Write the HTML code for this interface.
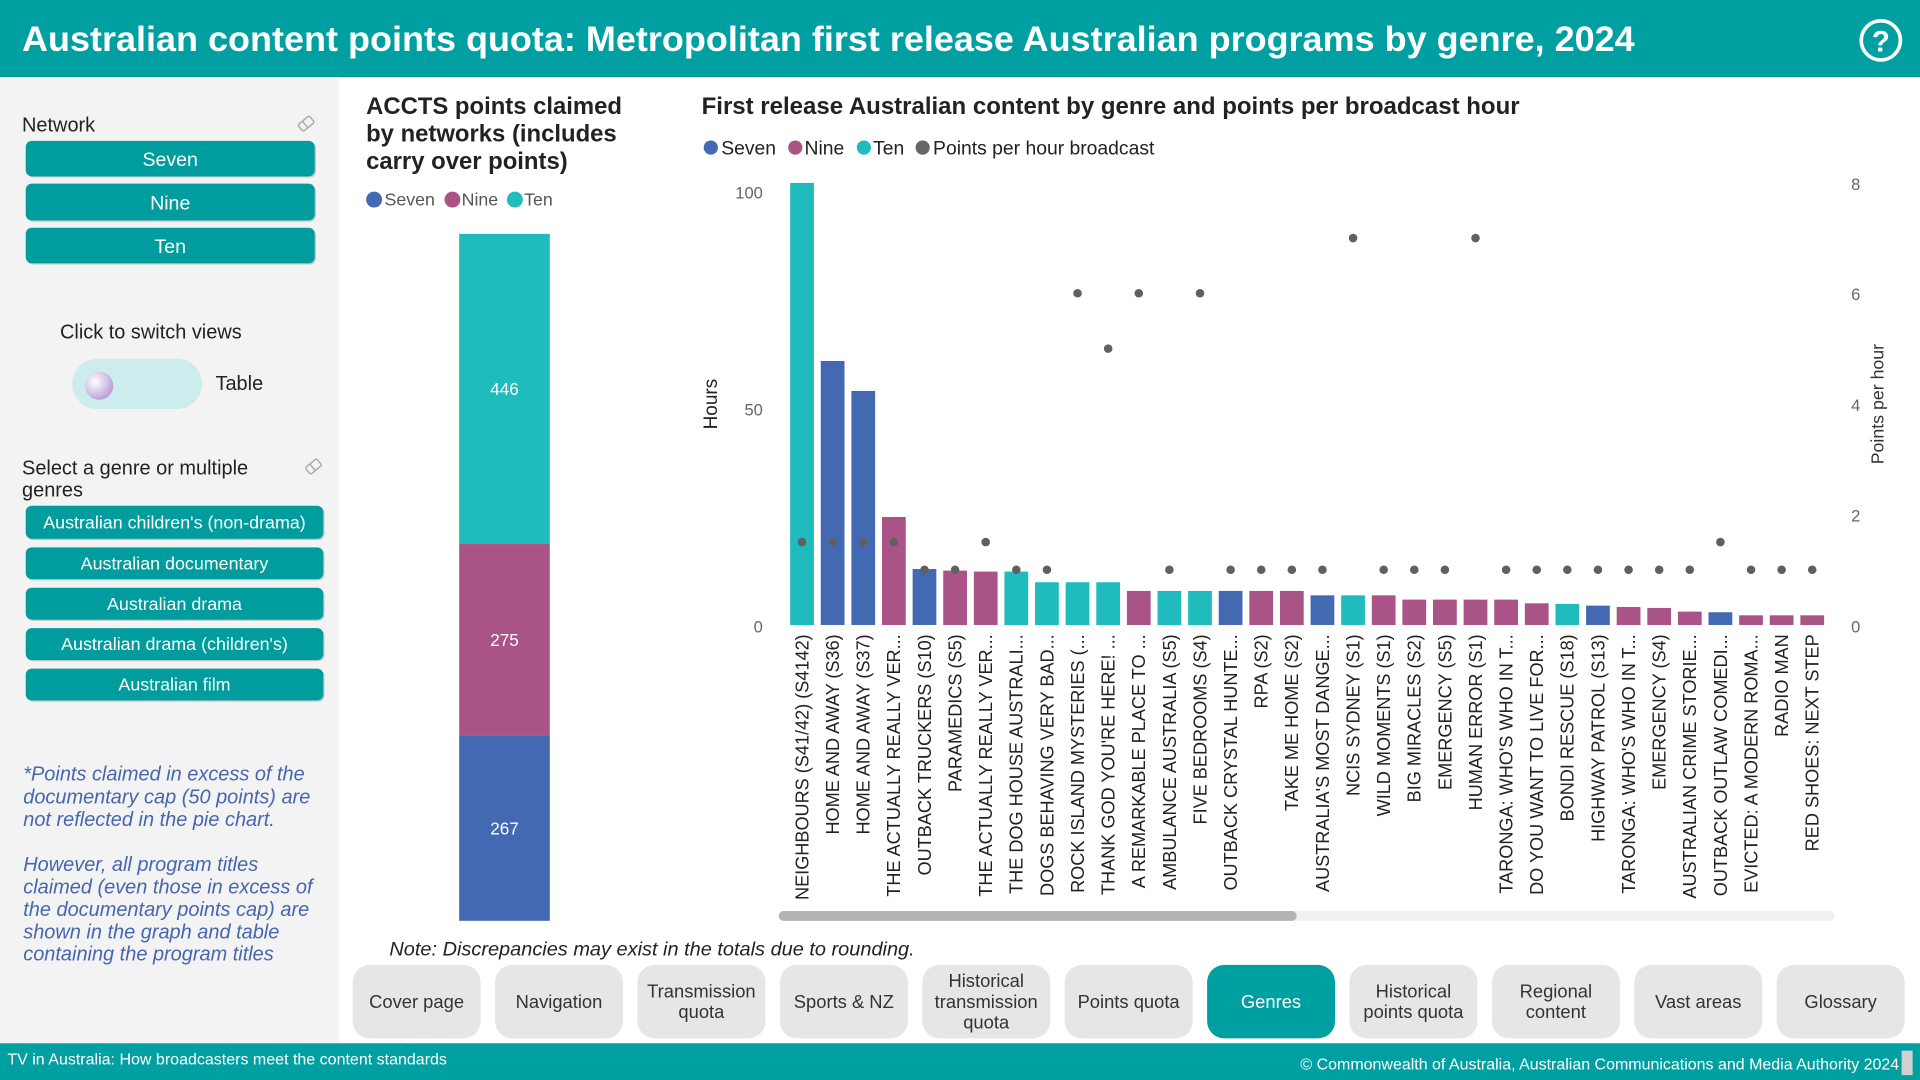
<!DOCTYPE html>
<html>
<head>
<meta charset="utf-8">
<style>
html,body{margin:0;padding:0;background:#fff;overflow:hidden;}
svg{display:block;}
text{font-family:"Liberation Sans",Arial,sans-serif;}
.xl{font-size:14.8px;fill:#222;}
.nb{font-size:15px;fill:#333;text-anchor:middle;}
.note{font-size:16.3px;fill:#4666AE;font-style:italic;}
</style>
</head>
<body>
<svg width="1920" height="1080" viewBox="0 0 1568 882" xmlns="http://www.w3.org/2000/svg">
<defs>
<radialGradient id="knob" cx="0.35" cy="0.35" r="0.7">
<stop offset="0" stop-color="#ffffff"/>
<stop offset="1" stop-color="#b89dd6"/>
</radialGradient>
</defs>
<rect x="0" y="0" width="1568" height="882" fill="#fff"/>

<!-- Header -->
<rect x="0" y="0" width="1568" height="63" fill="#00A0A2"/>
<rect x="0" y="61.5" width="1568" height="1.5" fill="#0a9496"/>
<text x="18" y="41.5" font-size="29" font-weight="bold" fill="#fff" textLength="1317" lengthAdjust="spacingAndGlyphs">Australian content points quota: Metropolitan first release Australian programs by genre, 2024</text>
<circle cx="1536" cy="33" r="16" fill="none" stroke="#fff" stroke-width="3"/>
<text x="1536" y="42" font-size="24" font-weight="bold" fill="#fff" text-anchor="middle">?</text>

<!-- Left panel -->
<rect x="0" y="63" width="277" height="789" fill="#f3f3f3"/>
<text x="18" y="107.5" font-size="16.3" fill="#222">Network</text>
<g transform="translate(250,101) rotate(-40)" fill="none" stroke="#aaa" stroke-width="1.2">
<rect x="-6" y="-3.5" width="12" height="7" rx="1.5"/>
<line x1="-1" y1="-3.5" x2="-1" y2="3.5"/>
</g>
<rect x="22" y="116" width="236" height="29" rx="5" fill="#b9c9c9"/>
<rect x="21" y="115" width="236" height="29" rx="5" fill="#009C9E"/>
<text x="139" y="135.5" font-size="16" fill="#fff" text-anchor="middle">Seven</text>
<rect x="22" y="151" width="236" height="30" rx="5" fill="#b9c9c9"/>
<rect x="21" y="150" width="236" height="30" rx="5" fill="#009C9E"/>
<text x="139" y="171" font-size="16" fill="#fff" text-anchor="middle">Nine</text>
<rect x="22" y="187" width="236" height="29" rx="5" fill="#b9c9c9"/>
<rect x="21" y="186" width="236" height="29" rx="5" fill="#009C9E"/>
<text x="139" y="206.5" font-size="16" fill="#fff" text-anchor="middle">Ten</text>

<text x="49" y="276.5" font-size="16.3" fill="#222">Click to switch views</text>
<rect x="59" y="293" width="106" height="41" rx="20.5" fill="#cdecee"/>
<circle cx="81" cy="315" r="11.5" fill="url(#knob)"/>
<text x="176" y="318.5" font-size="16.3" fill="#222">Table</text>

<text x="18" y="387.5" font-size="16.3" fill="#222">Select a genre or multiple</text>
<text x="18" y="405.5" font-size="16.3" fill="#222">genres</text>
<g transform="translate(256,381) rotate(-40)" fill="none" stroke="#aaa" stroke-width="1.2">
<rect x="-6" y="-3.5" width="12" height="7" rx="1.5"/>
<line x1="-1" y1="-3.5" x2="-1" y2="3.5"/>
</g>
<g>
<rect x="22" y="414" width="243" height="27" rx="5" fill="#b9c9c9"/>
<rect x="21" y="413" width="243" height="27" rx="5" fill="#009C9E"/>
<text x="142.5" y="431.5" font-size="14.6" fill="#fff" text-anchor="middle">Australian children's (non-drama)</text>
<rect x="22" y="448" width="243" height="26" rx="5" fill="#b9c9c9"/>
<rect x="21" y="447" width="243" height="26" rx="5" fill="#009C9E"/>
<text x="142.5" y="465" font-size="14.6" fill="#fff" text-anchor="middle">Australian documentary</text>
<rect x="22" y="481" width="243" height="26" rx="5" fill="#b9c9c9"/>
<rect x="21" y="480" width="243" height="26" rx="5" fill="#009C9E"/>
<text x="142.5" y="498" font-size="14.6" fill="#fff" text-anchor="middle">Australian drama</text>
<rect x="22" y="514" width="243" height="26" rx="5" fill="#b9c9c9"/>
<rect x="21" y="513" width="243" height="26" rx="5" fill="#009C9E"/>
<text x="142.5" y="531" font-size="14.6" fill="#fff" text-anchor="middle">Australian drama (children's)</text>
<rect x="22" y="547" width="243" height="26" rx="5" fill="#b9c9c9"/>
<rect x="21" y="546" width="243" height="26" rx="5" fill="#009C9E"/>
<text x="142.5" y="564" font-size="14.6" fill="#fff" text-anchor="middle">Australian film</text>
</g>

<text class="note" x="19" y="637.5">*Points claimed in excess of the</text>
<text class="note" x="19" y="656">documentary cap (50 points) are</text>
<text class="note" x="19" y="674.5">not reflected in the pie chart.</text>
<text class="note" x="19" y="711.5">However, all program titles</text>
<text class="note" x="19" y="729.5">claimed (even those in excess of</text>
<text class="note" x="19" y="748">the documentary points cap) are</text>
<text class="note" x="19" y="766.5">shown in the graph and table</text>
<text class="note" x="19" y="784.5">containing the program titles</text>

<!-- Left stacked chart -->
<text x="299" y="93" font-size="19.5" font-weight="bold" fill="#222">ACCTS points claimed</text>
<text x="299" y="115.5" font-size="19.5" font-weight="bold" fill="#222">by networks (includes</text>
<text x="299" y="138" font-size="19.5" font-weight="bold" fill="#222">carry over points)</text>
<circle cx="305.5" cy="163" r="6.5" fill="#4469B3"/>
<text x="314" y="168" font-size="14.5" fill="#555">Seven</text>
<circle cx="369.5" cy="163" r="6.5" fill="#A95387"/>
<text x="377" y="168" font-size="14.5" fill="#555">Nine</text>
<circle cx="420.5" cy="163" r="6.5" fill="#1FBBBD"/>
<text x="428" y="168" font-size="14.5" fill="#555">Ten</text>

<rect x="375" y="191" width="74" height="253.3" fill="#1FBBBD"/>
<rect x="375" y="444.3" width="74" height="156.1" fill="#A95387"/>
<rect x="375" y="600.4" width="74" height="151.6" fill="#4469B3"/>
<text x="412" y="322.5" font-size="14" fill="#fff" text-anchor="middle">446</text>
<text x="412" y="527.5" font-size="14" fill="#fff" text-anchor="middle">275</text>
<text x="412" y="681.5" font-size="14" fill="#fff" text-anchor="middle">267</text>

<!-- Main chart -->
<text x="573" y="93" font-size="19.5" font-weight="bold" fill="#222" textLength="668" lengthAdjust="spacingAndGlyphs">First release Australian content by genre and points per broadcast hour</text>
<circle cx="580.5" cy="120.5" r="5.8" fill="#4469B3"/>
<text x="589" y="126" font-size="15.8" fill="#222">Seven</text>
<circle cx="649.5" cy="120.5" r="5.8" fill="#A95387"/>
<text x="657" y="126" font-size="15.8" fill="#222">Nine</text>
<circle cx="705.5" cy="120.5" r="5.8" fill="#1FBBBD"/>
<text x="713" y="126" font-size="15.8" fill="#222">Ten</text>
<circle cx="753.5" cy="120.5" r="5.8" fill="#666"/>
<text x="762" y="126" font-size="15.8" fill="#222">Points per hour broadcast</text>

<!-- Left axis -->
<text x="623" y="162" font-size="13.5" fill="#666" text-anchor="end">100</text>
<text x="623" y="339.5" font-size="13.5" fill="#666" text-anchor="end">50</text>
<text x="623" y="516.5" font-size="13.5" fill="#666" text-anchor="end">0</text>
<text x="585.5" y="330" font-size="15.5" fill="#222" text-anchor="middle" transform="rotate(-90 585.5 330)">Hours</text>

<!-- Right axis -->
<text x="1515.5" y="155" font-size="13.5" fill="#666" text-anchor="middle">8</text>
<text x="1515.5" y="245" font-size="13.5" fill="#666" text-anchor="middle">6</text>
<text x="1515.5" y="335.5" font-size="13.5" fill="#666" text-anchor="middle">4</text>
<text x="1515.5" y="426" font-size="13.5" fill="#666" text-anchor="middle">2</text>
<text x="1515.5" y="516.5" font-size="13.5" fill="#666" text-anchor="middle">0</text>
<text x="1538" y="330" font-size="14.5" fill="#333" text-anchor="middle" transform="rotate(-90 1538 330)">Points per hour</text>

<!-- Bars -->
<g>
<rect x="645.3" y="149.4" width="19.4" height="361" fill="#1FBBBD"/>
<rect x="670.3" y="294.8" width="19.4" height="215.6" fill="#4469B3"/>
<rect x="695.3" y="319.3" width="19.4" height="191.1" fill="#4469B3"/>
<rect x="720.3" y="422.2" width="19.4" height="88.2" fill="#A95387"/>
<rect x="745.3" y="464.7" width="19.4" height="45.7" fill="#4469B3"/>
<rect x="770.3" y="466" width="19.4" height="44.4" fill="#A95387"/>
<rect x="795.3" y="466.8" width="19.4" height="43.6" fill="#A95387"/>
<rect x="820.3" y="466.8" width="19.4" height="43.6" fill="#1FBBBD"/>
<rect x="845.3" y="475.5" width="19.4" height="34.9" fill="#1FBBBD"/>
<rect x="870.3" y="475.5" width="19.4" height="34.9" fill="#1FBBBD"/>
<rect x="895.3" y="475.5" width="19.4" height="34.9" fill="#1FBBBD"/>
<rect x="920.3" y="482.6" width="19.4" height="27.8" fill="#A95387"/>
<rect x="945.3" y="482.6" width="19.4" height="27.8" fill="#1FBBBD"/>
<rect x="970.3" y="482.6" width="19.4" height="27.8" fill="#1FBBBD"/>
<rect x="995.3" y="482.6" width="19.4" height="27.8" fill="#4469B3"/>
<rect x="1020.3" y="482.6" width="19.4" height="27.8" fill="#A95387"/>
<rect x="1045.3" y="482.6" width="19.4" height="27.8" fill="#A95387"/>
<rect x="1070.3" y="486.2" width="19.4" height="24.2" fill="#4469B3"/>
<rect x="1095.3" y="486.2" width="19.4" height="24.2" fill="#1FBBBD"/>
<rect x="1120.3" y="486.2" width="19.4" height="24.2" fill="#A95387"/>
<rect x="1145.3" y="489.7" width="19.4" height="20.7" fill="#A95387"/>
<rect x="1170.3" y="489.7" width="19.4" height="20.7" fill="#A95387"/>
<rect x="1195.3" y="489.7" width="19.4" height="20.7" fill="#A95387"/>
<rect x="1220.3" y="489.7" width="19.4" height="20.7" fill="#A95387"/>
<rect x="1245.3" y="492.7" width="19.4" height="17.7" fill="#A95387"/>
<rect x="1270.3" y="493.2" width="19.4" height="17.2" fill="#1FBBBD"/>
<rect x="1295.3" y="494.6" width="19.4" height="15.8" fill="#4469B3"/>
<rect x="1320.3" y="495.7" width="19.4" height="14.7" fill="#A95387"/>
<rect x="1345.3" y="496.5" width="19.4" height="13.9" fill="#A95387"/>
<rect x="1370.3" y="499.5" width="19.4" height="10.9" fill="#A95387"/>
<rect x="1395.3" y="500" width="19.4" height="10.4" fill="#4469B3"/>
<rect x="1420.3" y="502.5" width="19.4" height="7.9" fill="#A95387"/>
<rect x="1445.3" y="502.5" width="19.4" height="7.9" fill="#A95387"/>
<rect x="1470.3" y="502.5" width="19.4" height="7.9" fill="#A95387"/>
</g>

<!-- Dots -->
<g fill="#606060">
<circle cx="655" cy="442.7" r="3.5"/>
<circle cx="680" cy="442.7" r="3.5"/>
<circle cx="705" cy="442.7" r="3.5"/>
<circle cx="730" cy="442.7" r="3.5"/>
<circle cx="755" cy="465.3" r="3.5"/>
<circle cx="780" cy="465.3" r="3.5"/>
<circle cx="805" cy="442.7" r="3.5"/>
<circle cx="830" cy="465.3" r="3.5"/>
<circle cx="855" cy="465.3" r="3.5"/>
<circle cx="880" cy="239.5" r="3.5"/>
<circle cx="905" cy="284.7" r="3.5"/>
<circle cx="930" cy="239.5" r="3.5"/>
<circle cx="955" cy="465.3" r="3.5"/>
<circle cx="980" cy="239.5" r="3.5"/>
<circle cx="1005" cy="465.3" r="3.5"/>
<circle cx="1030" cy="465.3" r="3.5"/>
<circle cx="1055" cy="465.3" r="3.5"/>
<circle cx="1080" cy="465.3" r="3.5"/>
<circle cx="1105" cy="194.4" r="3.5"/>
<circle cx="1130" cy="465.3" r="3.5"/>
<circle cx="1155" cy="465.3" r="3.5"/>
<circle cx="1180" cy="465.3" r="3.5"/>
<circle cx="1205" cy="194.4" r="3.5"/>
<circle cx="1230" cy="465.3" r="3.5"/>
<circle cx="1255" cy="465.3" r="3.5"/>
<circle cx="1280" cy="465.3" r="3.5"/>
<circle cx="1305" cy="465.3" r="3.5"/>
<circle cx="1330" cy="465.3" r="3.5"/>
<circle cx="1355" cy="465.3" r="3.5"/>
<circle cx="1380" cy="465.3" r="3.5"/>
<circle cx="1405" cy="442.7" r="3.5"/>
<circle cx="1430" cy="465.3" r="3.5"/>
<circle cx="1455" cy="465.3" r="3.5"/>
<circle cx="1480" cy="465.3" r="3.5"/>
</g>

<!-- X labels -->
<g class="xl" text-anchor="end">
<text class="xl" x="660.2" y="518" transform="rotate(-90 660.2 518)">NEIGHBOURS (S41/42) (S4142)</text>
<text class="xl" x="685.2" y="518" transform="rotate(-90 685.2 518)">HOME AND AWAY (S36)</text>
<text class="xl" x="710.2" y="518" transform="rotate(-90 710.2 518)">HOME AND AWAY (S37)</text>
<text class="xl" x="735.2" y="518" transform="rotate(-90 735.2 518)">THE ACTUALLY REALLY VER...</text>
<text class="xl" x="760.2" y="518" transform="rotate(-90 760.2 518)">OUTBACK TRUCKERS (S10)</text>
<text class="xl" x="785.2" y="518" transform="rotate(-90 785.2 518)">PARAMEDICS (S5)</text>
<text class="xl" x="810.2" y="518" transform="rotate(-90 810.2 518)">THE ACTUALLY REALLY VER...</text>
<text class="xl" x="835.2" y="518" transform="rotate(-90 835.2 518)">THE DOG HOUSE AUSTRALI...</text>
<text class="xl" x="860.2" y="518" transform="rotate(-90 860.2 518)">DOGS BEHAVING VERY BAD...</text>
<text class="xl" x="885.2" y="518" transform="rotate(-90 885.2 518)">ROCK ISLAND MYSTERIES (...</text>
<text class="xl" x="910.2" y="518" transform="rotate(-90 910.2 518)">THANK GOD YOU'RE HERE! ...</text>
<text class="xl" x="935.2" y="518" transform="rotate(-90 935.2 518)">A REMARKABLE PLACE TO ...</text>
<text class="xl" x="960.2" y="518" transform="rotate(-90 960.2 518)">AMBULANCE AUSTRALIA (S5)</text>
<text class="xl" x="985.2" y="518" transform="rotate(-90 985.2 518)">FIVE BEDROOMS (S4)</text>
<text class="xl" x="1010.2" y="518" transform="rotate(-90 1010.2 518)">OUTBACK CRYSTAL HUNTE...</text>
<text class="xl" x="1035.2" y="518" transform="rotate(-90 1035.2 518)">RPA (S2)</text>
<text class="xl" x="1060.2" y="518" transform="rotate(-90 1060.2 518)">TAKE ME HOME (S2)</text>
<text class="xl" x="1085.2" y="518" transform="rotate(-90 1085.2 518)">AUSTRALIA'S MOST DANGE...</text>
<text class="xl" x="1110.2" y="518" transform="rotate(-90 1110.2 518)">NCIS SYDNEY (S1)</text>
<text class="xl" x="1135.2" y="518" transform="rotate(-90 1135.2 518)">WILD MOMENTS (S1)</text>
<text class="xl" x="1160.2" y="518" transform="rotate(-90 1160.2 518)">BIG MIRACLES (S2)</text>
<text class="xl" x="1185.2" y="518" transform="rotate(-90 1185.2 518)">EMERGENCY (S5)</text>
<text class="xl" x="1210.2" y="518" transform="rotate(-90 1210.2 518)">HUMAN ERROR (S1)</text>
<text class="xl" x="1235.2" y="518" transform="rotate(-90 1235.2 518)">TARONGA: WHO'S WHO IN T...</text>
<text class="xl" x="1260.2" y="518" transform="rotate(-90 1260.2 518)">DO YOU WANT TO LIVE FOR...</text>
<text class="xl" x="1285.2" y="518" transform="rotate(-90 1285.2 518)">BONDI RESCUE (S18)</text>
<text class="xl" x="1310.2" y="518" transform="rotate(-90 1310.2 518)">HIGHWAY PATROL (S13)</text>
<text class="xl" x="1335.2" y="518" transform="rotate(-90 1335.2 518)">TARONGA: WHO'S WHO IN T...</text>
<text class="xl" x="1360.2" y="518" transform="rotate(-90 1360.2 518)">EMERGENCY (S4)</text>
<text class="xl" x="1385.2" y="518" transform="rotate(-90 1385.2 518)">AUSTRALIAN CRIME STORIE...</text>
<text class="xl" x="1410.2" y="518" transform="rotate(-90 1410.2 518)">OUTBACK OUTLAW COMEDI...</text>
<text class="xl" x="1435.2" y="518" transform="rotate(-90 1435.2 518)">EVICTED: A MODERN ROMA...</text>
<text class="xl" x="1460.2" y="518" transform="rotate(-90 1460.2 518)">RADIO MAN</text>
<text class="xl" x="1485.2" y="518" transform="rotate(-90 1485.2 518)">RED SHOES: NEXT STEP</text>
</g>

<!-- Scrollbar -->
<rect x="636" y="744" width="862" height="8" rx="4" fill="#f0f0f0"/>
<rect x="636" y="744" width="423" height="8" rx="4" fill="#b3b3b3"/>

<!-- Note -->
<text x="318" y="780.5" font-size="15.5" font-style="italic" fill="#222" textLength="429" lengthAdjust="spacingAndGlyphs">Note: Discrepancies may exist in the totals due to rounding.</text>

<!-- Nav buttons -->
<rect x="288" y="788" width="104.5" height="60" rx="14" fill="#e6e6e6"/>
<text class="nb" x="340.2" y="823">Cover page</text>
<rect x="404.3" y="788" width="104.5" height="60" rx="14" fill="#e6e6e6"/>
<text class="nb" x="456.5" y="823">Navigation</text>
<rect x="520.6" y="788" width="104.5" height="60" rx="14" fill="#e6e6e6"/>
<text class="nb" x="572.8" y="814.5">Transmission</text>
<text class="nb" x="572.8" y="831.5">quota</text>
<rect x="636.9" y="788" width="104.5" height="60" rx="14" fill="#e6e6e6"/>
<text class="nb" x="689.1" y="823">Sports &amp; NZ</text>
<rect x="753.2" y="788" width="104.5" height="60" rx="14" fill="#e6e6e6"/>
<text class="nb" x="805.4" y="806">Historical</text>
<text class="nb" x="805.4" y="823">transmission</text>
<text class="nb" x="805.4" y="840">quota</text>
<rect x="869.5" y="788" width="104.5" height="60" rx="14" fill="#e6e6e6"/>
<text class="nb" x="921.7" y="823">Points quota</text>
<rect x="985.8" y="788" width="104.5" height="60" rx="14" fill="#009FA1"/>
<text class="nb" x="1038" y="823" style="fill:#fff">Genres</text>
<rect x="1102.1" y="788" width="104.5" height="60" rx="14" fill="#e6e6e6"/>
<text class="nb" x="1154.3" y="814.5">Historical</text>
<text class="nb" x="1154.3" y="831.5">points quota</text>
<rect x="1218.4" y="788" width="104.5" height="60" rx="14" fill="#e6e6e6"/>
<text class="nb" x="1270.6" y="814.5">Regional</text>
<text class="nb" x="1270.6" y="831.5">content</text>
<rect x="1334.7" y="788" width="104.5" height="60" rx="14" fill="#e6e6e6"/>
<text class="nb" x="1386.9" y="823">Vast areas</text>
<rect x="1451" y="788" width="104.5" height="60" rx="14" fill="#e6e6e6"/>
<text class="nb" x="1503.2" y="823">Glossary</text>

<!-- Footer -->
<rect x="0" y="852" width="1568" height="30" fill="#00A0A2"/>
<text x="6" y="869.5" font-size="13" fill="#fff" textLength="359" lengthAdjust="spacingAndGlyphs">TV in Australia: How broadcasters meet the content standards</text>
<text x="1062" y="873.5" font-size="13" fill="#fff" textLength="489" lengthAdjust="spacingAndGlyphs">© Commonwealth of Australia, Australian Communications and Media Authority 2024</text>
<rect x="1553" y="858" width="9" height="20" fill="#d0d0d0"/>
</svg>
</body>
</html>
